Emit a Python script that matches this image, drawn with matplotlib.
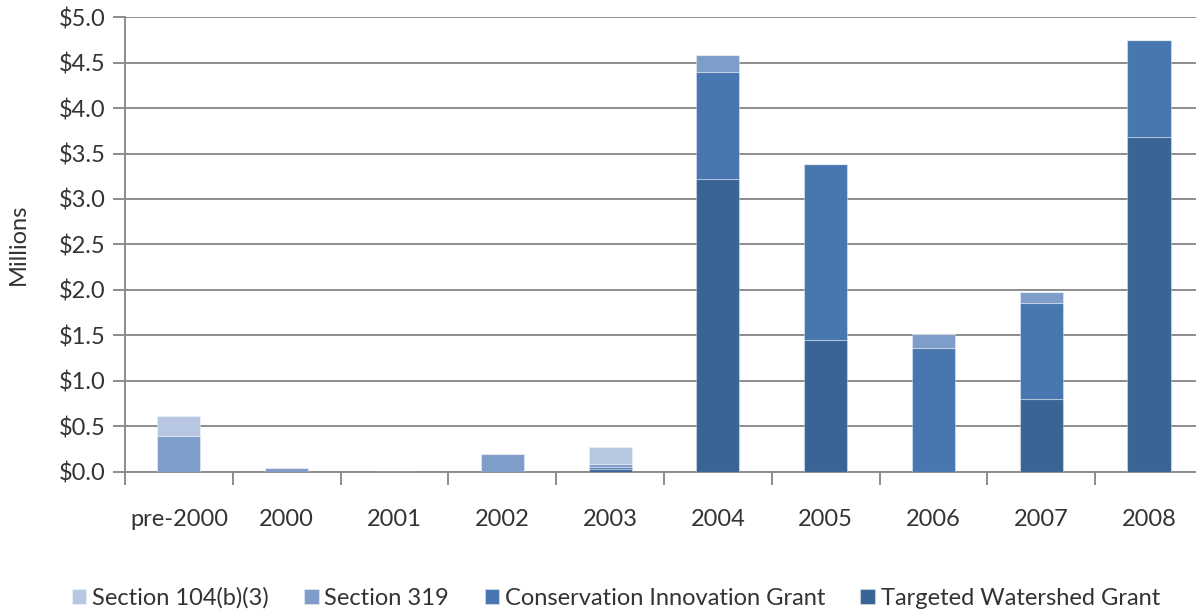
import matplotlib.pyplot as plt
import numpy as np
from matplotlib.ticker import FuncFormatter, FixedLocator

plt.rcParams['font.family'] = ['Lato', 'DejaVu Sans']

categories = ['pre-2000', '2000', '2001', '2002', '2003', '2004', '2005', '2006', '2007', '2008']
# millions of dollars, bottom to top of each stack
targeted_watershed = [0.0, 0.0, 0.0, 0.0, 0.025, 3.22, 1.45, 0.0, 0.80, 3.68]
conservation_innovation = [0.0, 0.0, 0.0, 0.0, 0.02, 1.18, 1.94, 1.36, 1.06, 1.07]
section_319 = [0.39, 0.035, 0.0, 0.19, 0.035, 0.19, 0.0, 0.15, 0.12, 0.0]
section_104b3 = [0.22, 0.0, 0.0, 0.0, 0.19, 0.0, 0.0, 0.0, 0.0, 0.0]

series = [
    ('Targeted Watershed Grant', targeted_watershed, '#3B6496'),
    ('Conservation Innovation Grant', conservation_innovation, '#4877B0'),
    ('Section 319', section_319, '#7F9DC9'),
    ('Section 104(b)(3)', section_104b3, '#B7C7E1'),
]

fig = plt.figure(figsize=(11.96, 6.13), dpi=100)
# right edge runs slightly past the image, like the original
ax = fig.add_axes([0.1045, 0.2308, 0.9013, 0.741])

x = np.arange(len(categories))
bottom = np.zeros(len(categories))
handles = {}
for name, vals, color in series:
    vals = np.array(vals)
    b = ax.bar(x, vals, width=0.40, bottom=bottom, color=color,
               edgecolor=(1, 1, 1, 0.35), linewidth=0.8, zorder=3, label=name)
    handles[name] = b
    bottom = bottom + vals

ax.set_xlim(-0.5, len(categories) - 0.5)
ax.set_ylim(0, 5.0)
ax.set_yticks(np.arange(0, 5.01, 0.5))
ax.yaxis.set_major_formatter(FuncFormatter(lambda v, p: '${:.1f}'.format(v)))
ax.yaxis.grid(True, color='#8c8c8c', linewidth=1.4, zorder=0)
ax.set_axisbelow(True)

# category labels centred, tick marks between categories
ax.set_xticks(x)
ax.set_xticklabels(categories)
ax.xaxis.set_minor_locator(FixedLocator(np.arange(-0.5, len(categories), 1.0)))
ax.tick_params(axis='x', which='major', length=0, pad=27, labelsize=17, labelcolor='#333333')
ax.tick_params(axis='x', which='minor', length=9, width=1.4, color='#8c8c8c')
ax.tick_params(axis='y', length=9, width=1.4, color='#8c8c8c', labelsize=17,
               labelcolor='#333333', pad=5)

for side in ['top', 'right']:
    ax.spines[side].set_visible(False)
for side in ['left', 'bottom']:
    ax.spines[side].set_color('#8c8c8c')
    ax.spines[side].set_linewidth(1.4)

ax.set_ylabel('Millions', fontsize=17, color='#333333')
ax.yaxis.set_label_coords(-0.089, 0.5)

order = ['Section 104(b)(3)', 'Section 319', 'Conservation Innovation Grant', 'Targeted Watershed Grant']
fig.legend([handles[n] for n in order], order, loc='center', bbox_to_anchor=(0.515, 0.024),
           ncol=4, frameon=False, fontsize=17, handlelength=0.6, handleheight=0.6,
           handletextpad=0.25, columnspacing=1.5, labelcolor='#333333')

fig.savefig('out.png', dpi=100)
